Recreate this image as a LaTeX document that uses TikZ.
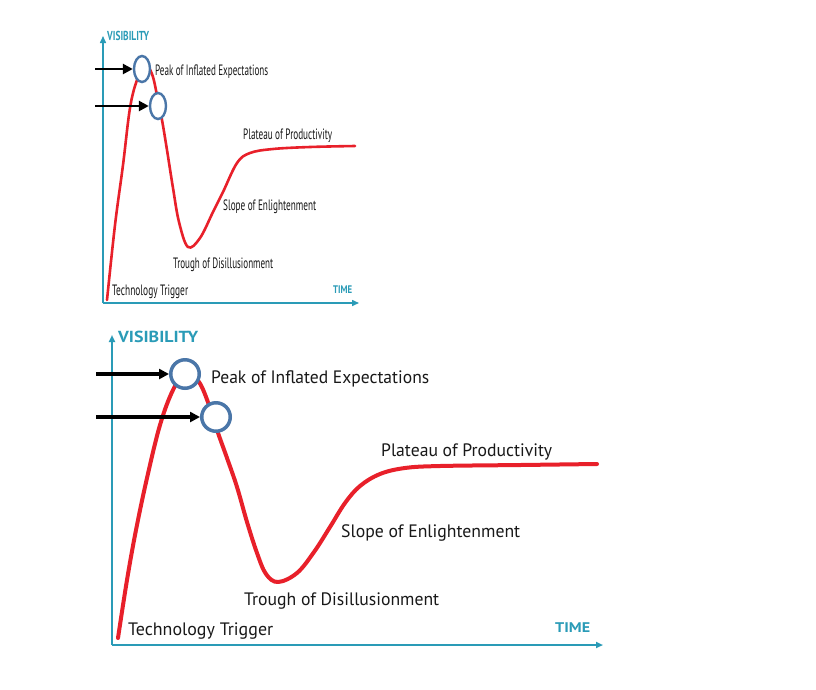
\documentclass[tikz,border=0pt]{standalone}
\usepackage{fontspec}
\setmainfont{PT Sans}
\usetikzlibrary{arrows.meta,shapes.geometric}
\definecolor{axisteal}{HTML}{2A9BB7}
\definecolor{hypered}{HTML}{E8202A}
\definecolor{ringblue}{HTML}{4A76A8}
\newcommand\fitlabel[3]{\resizebox{#1}{\height}{\fontsize{#2}{#2}\selectfont #3}}
\begin{document}
\begin{tikzpicture}[x=1pt,y=-1pt,
  axisline/.style={draw=axisteal,-{Triangle[length=7pt,width=6pt]}},
  hype/.style={draw=hypered,line cap=round,line join=round},
  ring/.style={circle,draw=ringblue,fill=white,inner sep=0pt},
  oval/.style={ellipse,draw=ringblue,fill=white,inner sep=0pt},
  pointer/.style={draw=black,-{Triangle[length=10pt,width=10pt]}},
  lbl/.style={inner sep=0pt,anchor=base west,text=black!90},
  axlbl/.style={inner sep=0pt,anchor=base west,text=axisteal,font=\bfseries}]
\useasboundingbox (0,0) rectangle (816,689);
\fill[white] (0,0) rectangle (816,689);
% ---------------- small chart ----------------
\coordinate (so) at (103,303);
\coordinate (sy) at (103,36);
\coordinate (sx) at (359,303);
\draw[axisline,line width=1.5pt] (so) -- (sy);
\draw[axisline,line width=1.5pt] (so) -- (sx);
\draw[hype,line width=2.6pt] plot[smooth,tension=0.6] coordinates {
 (107,300) (115,225) (123,165) (130,108) (137,80) (145,65) (152,74) (157,95) (162,120)
 (167,150) (173,188) (179,222) (188,247) (200,238) (213,212) (223,192) (237,163)
 (250,153) (273,149) (310,147) (355,146)};
\node[oval,line width=2.4pt,minimum width=16pt,minimum height=26pt] (sc1) at (142,69) {};
\node[oval,line width=2.4pt,minimum width=16pt,minimum height=26pt] (sc2) at (158,106) {};
\coordinate (sa1) at (95,69);
\coordinate (sa2) at (95,106);
\draw[pointer,line width=2.8pt] (sa1) -- (sc1.west);
\draw[pointer,line width=2.8pt] (sa2) -- (sc2.west);
\node[axlbl] (svis) at (107,40) {\fitlabel{42pt}{13}{VISIBILITY}};
\node[axlbl] (stime) at (333,293) {\fitlabel{19pt}{11}{TIME}};
\node[lbl] (speak) at (155,75) {\fitlabel{113pt}{15}{Peak of Inflated Expectations}};
\node[lbl] (splat) at (243,139) {\fitlabel{89pt}{15}{Plateau of Productivity}};
\node[lbl] (sslope) at (223,210) {\fitlabel{93pt}{15}{Slope of Enlightenment}};
\node[lbl] (strough) at (173,268) {\fitlabel{100pt}{15}{Trough of Disillusionment}};
\node[lbl] (stech) at (112,295) {\fitlabel{76pt}{15}{Technology Trigger}};
% ---------------- large chart ----------------
\coordinate (bo) at (112,645);
\coordinate (by) at (112,335);
\coordinate (bx) at (603,645);
\draw[axisline,line width=2pt] (bo) -- (by);
\draw[axisline,line width=2pt] (bo) -- (bx);
\draw[hype,line width=4pt] plot[smooth,tension=0.6] coordinates {
 (118,638) (127,580) (136,530) (147,478) (160,425) (173,390) (186,372) (199,382)
 (209,405) (217,430) (227,458) (237,487) (247,522) (257,553) (266,574) (278,582)
 (297,573) (314,552) (330,527) (345,503) (360,486) (380,474) (405,468) (440,466)
 (520,465) (597,464)};
\node[ring,line width=3.5pt,minimum size=28.5pt] (bc1) at (185,374) {};
\node[ring,line width=3.5pt,minimum size=28.5pt] (bc2) at (216,417) {};
\coordinate (ba1) at (96,374);
\coordinate (ba2) at (96,417);
\draw[pointer,line width=3.4pt] (ba1) -- (bc1.west);
\draw[pointer,line width=3.4pt] (ba2) -- (bc2.west);
\node[axlbl] (bvis) at (118,342) {\fitlabel{80pt}{16}{VISIBILITY}};
\node[axlbl] (btime) at (555,632) {\fitlabel{35pt}{14}{TIME}};
\node[lbl] (bpeak) at (211,383) {\fitlabel{218pt}{18}{Peak of Inflated Expectations}};
\node[lbl] (bplat) at (381,456) {\fitlabel{171pt}{18}{Plateau of Productivity}};
\node[lbl] (bslope) at (341,537) {\fitlabel{179pt}{18}{Slope of Enlightenment}};
\node[lbl] (btrough) at (244,605) {\fitlabel{195pt}{18}{Trough of Disillusionment}};
\node[lbl] (btech) at (128,635) {\fitlabel{145pt}{18}{Technology Trigger}};
\end{tikzpicture}
\end{document}
